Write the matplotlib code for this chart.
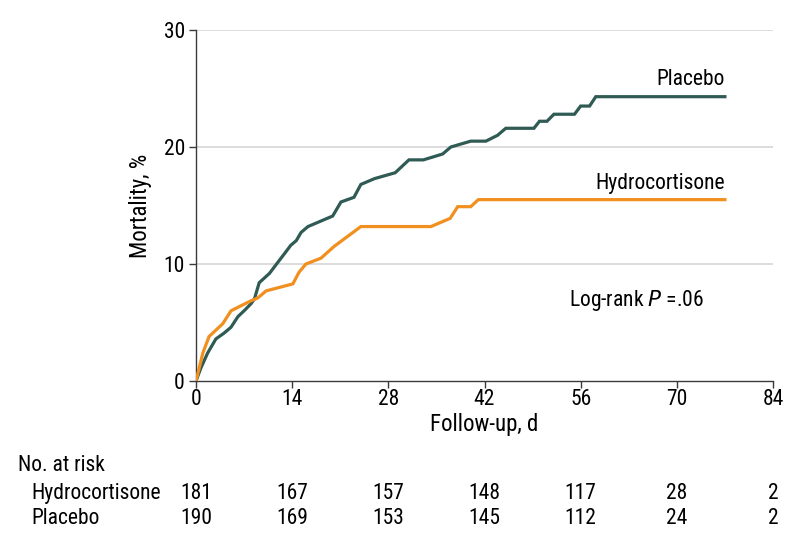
import matplotlib.pyplot as plt
import matplotlib.transforms as mtransforms

plt.rcParams['font.family'] = ['Roboto Condensed', 'Liberation Sans Narrow', 'Liberation Sans', 'DejaVu Sans']

# curve points (day, mortality %)
placebo_days = [0, 0.7, 1.7, 2.9, 4.1, 5.1, 6.1, 7.0, 8.0, 8.5, 9.2, 10.7, 11.6,
                12.9, 13.8, 14.6, 15.3, 16.3, 19.9, 21.1, 23.0, 24.0, 26.0, 29.0,
                31.0, 33.1, 35.9, 37.1, 40.0, 42.2, 43.9, 45.1, 49.2, 50.0, 51.1,
                52.1, 55.1, 56.0, 57.3, 58.2, 77.0]
placebo_mort = [0, 1.1, 2.4, 3.6, 4.1, 4.6, 5.5, 6.0, 6.6, 7.0, 8.4, 9.2, 9.9,
                10.9, 11.6, 12.0, 12.7, 13.2, 14.1, 15.3, 15.7, 16.8, 17.3, 17.8,
                18.9, 18.9, 19.4, 20.0, 20.5, 20.5, 21.0, 21.6, 21.6, 22.2, 22.2,
                22.8, 22.8, 23.5, 23.5, 24.3, 24.3]

hydro_days = [0, 1.0, 1.9, 3.9, 5.1, 7.8, 9.0, 10.2, 14.1, 15.0, 16.0, 18.2,
              20.1, 24.0, 34.2, 37.0, 38.1, 40.0, 41.1, 77.0]
hydro_mort = [0, 2.4, 3.8, 4.9, 6.0, 6.8, 7.1, 7.7, 8.3, 9.3, 10.0, 10.5,
              11.5, 13.2, 13.2, 13.9, 14.9, 14.9, 15.5, 15.5]

risk_days = [0, 14, 28, 42, 56, 70, 84]
risk_hydro = [181, 167, 157, 148, 117, 28, 2]
risk_placebo = [190, 169, 153, 145, 112, 24, 2]

green = '#2f5b54'
orange = '#f18f1f'
fs = 15.5

fig = plt.figure(figsize=(7.98, 5.46), dpi=100)
ax = fig.add_axes([196 / 798, 1 - 381 / 546, 577 / 798, 351 / 546])

ax.plot(placebo_days, placebo_mort, color=green, lw=2.3, solid_joinstyle='miter', zorder=3)
ax.plot(hydro_days, hydro_mort, color=orange, lw=2.3, solid_joinstyle='miter', zorder=3)

ax.set_xlim(0, 84)
ax.set_ylim(0, 30)
ax.set_xticks(risk_days)
ax.set_yticks([0, 10, 20, 30])
for y in [10, 20, 30]:
    ax.axhline(y, color='#d9d9d9', lw=1.3, zorder=1)

for s in ['top', 'right']:
    ax.spines[s].set_visible(False)
for s in ['left', 'bottom']:
    ax.spines[s].set_color('#3a3a3a')
    ax.spines[s].set_linewidth(1.0)
ax.tick_params(direction='out', length=5, width=1.0, color='#3a3a3a',
               labelsize=fs, pad=3)
ax.tick_params(axis='x', pad=1)

ax.set_xlabel('Follow-up, d', fontsize=16.5, labelpad=2)
ax.set_ylabel('Mortality, %', fontsize=16.5, labelpad=8)

ax.text(77, 25.3, 'Placebo', ha='right', va='baseline', fontsize=fs)
ax.text(77, 16.45, 'Hydrocortisone', ha='right', va='baseline', fontsize=fs)
ax.text(54.3, 6.4, 'Log-rank $\\it{P}$ =.06', ha='left', va='baseline', fontsize=fs)

# number at risk table
trans = mtransforms.blended_transform_factory(ax.transData, fig.transFigure)
fig.text(18 / 798, 1 - 471 / 546, 'No. at risk', ha='left', va='baseline', fontsize=fs)
fig.text(31 / 798, 1 - 499 / 546, 'Hydrocortisone', ha='left', va='baseline', fontsize=fs)
fig.text(31 / 798, 1 - 524 / 546, 'Placebo', ha='left', va='baseline', fontsize=fs)
for d, h, p in zip(risk_days, risk_hydro, risk_placebo):
    ax.text(d, 1 - 499 / 546, str(h), transform=trans, ha='center', va='baseline', fontsize=fs)
    ax.text(d, 1 - 524 / 546, str(p), transform=trans, ha='center', va='baseline', fontsize=fs)

fig.savefig('out.png', dpi=100)
